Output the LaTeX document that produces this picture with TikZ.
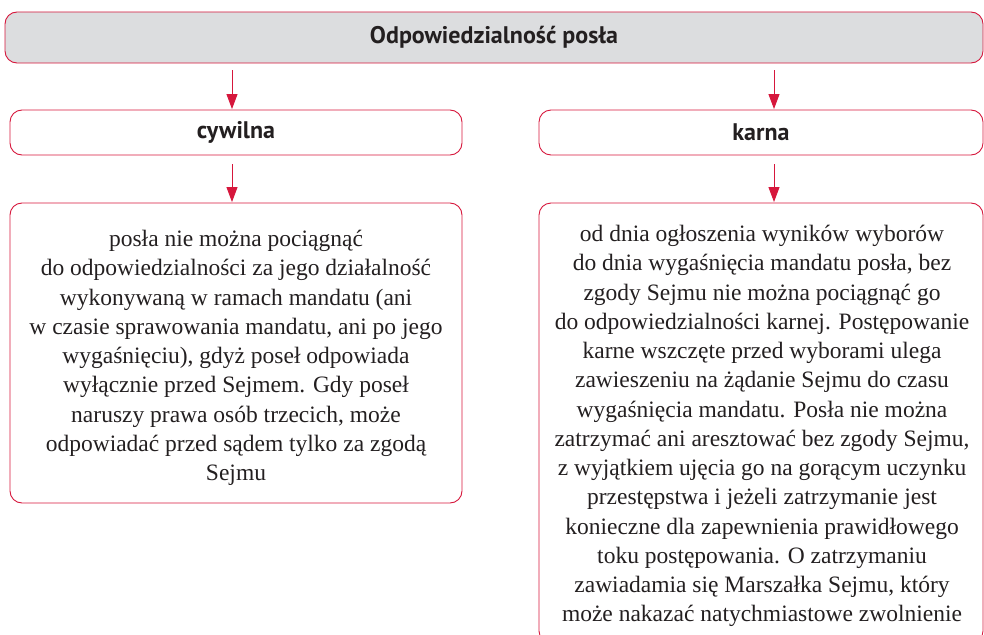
\documentclass[tikz,border=0pt]{standalone}
\usepackage{fontspec}
\setmainfont{Liberation Serif}
\newfontfamily\headfont{PT Sans}
\usetikzlibrary{arrows.meta}
\definecolor{rd}{HTML}{D6173C}
\definecolor{gr}{HTML}{DCDDDF}
\definecolor{txt}{HTML}{231F20}
\begin{document}
\begin{tikzpicture}[x=1pt,y=-1pt,
  box/.style={draw=rd, line width=0.9pt, rounded corners=12pt, rectangle, inner sep=0pt},
  headbox/.style={box, font=\headfont\bfseries\fontsize{24}{28}\selectfont, text=txt},
  textbox/.style={box, align=center, text=txt, font=\rmfamily\fontsize{23.5}{29.25}\selectfont},
  arr/.style={draw=rd, line width=0.9pt, -{Triangle[length=15pt,width=11pt]}, shorten >=0.5pt}
]
\useasboundingbox (0,0) rectangle (984,634);
\node[headbox, fill=gr, minimum width=978pt, minimum height=51pt] (top) at (494,37.5) {Odpowiedzialność posła};
\node[headbox, minimum width=452pt, minimum height=45pt] (cyw) at (236,132.5) {cywilna};
\node[headbox, minimum width=444pt, minimum height=45pt] (kar) at (761,132.5) {karna};
\node[box, minimum width=452pt, minimum height=300pt] (ctext) at (236,353) {};
\node[textbox, draw=none] (ctxt) at (236,358) {posła nie można pociągnąć\\
do odpowiedzialności za jego działalność\\
wykonywaną w ramach mandatu (ani\\
w czasie sprawowania mandatu, ani po jego\\
wygaśnięciu), gdyż poseł odpowiada\\
wyłącznie przed Sejmem. Gdy poseł\\
naruszy prawa osób trzecich, może\\
odpowiadać przed sądem tylko za zgodą\\
Sejmu};
\node[box, minimum width=444pt, minimum height=440pt] (ktext) at (761,423) {};
\node[textbox, draw=none] (ktxt) at (762,426) {od dnia ogłoszenia wyników wyborów\\
do dnia wygaśnięcia mandatu posła, bez\\
zgody Sejmu nie można pociągnąć go\\
do odpowiedzialności karnej. Postępowanie\\
karne wszczęte przed wyborami ulega\\
zawieszeniu na żądanie Sejmu do czasu\\
wygaśnięcia mandatu. Posła nie można\\
zatrzymać ani aresztować bez zgody Sejmu,\\
z wyjątkiem ujęcia go na gorącym uczynku\\
przestępstwa i jeżeli zatrzymanie jest\\
konieczne dla zapewnienia prawidłowego\\
toku postępowania. O zatrzymaniu\\
zawiadamia się Marszałka Sejmu, który\\
może nakazać natychmiastowe zwolnienie};
\coordinate (a1) at (232,0);
\coordinate (a2) at (774,0);
\draw[arr, shorten <=7pt] (top.south -| a1) -- (cyw.north -| a1);
\draw[arr, shorten <=7pt] (top.south -| a2) -- (kar.north -| a2);
\draw[arr, shorten <=9pt] (cyw.south -| a1) -- (ctext.north -| a1);
\draw[arr, shorten <=9pt] (kar.south -| a2) -- (ktext.north -| a2);
\end{tikzpicture}
\end{document}
